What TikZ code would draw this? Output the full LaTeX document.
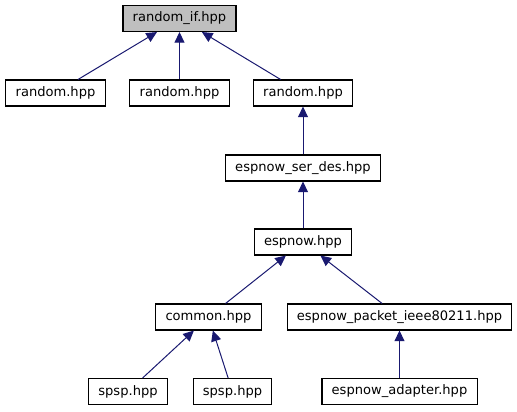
\documentclass[tikz,border=0pt]{standalone}
\usepackage{fontspec}
\setmainfont{DejaVu Sans}
\usepackage{tikz}
\usetikzlibrary{arrows.meta}
\definecolor{edgeblue}{HTML}{191970}
\definecolor{rootgray}{HTML}{BFBFBF}
\tikzset{
  file box/.style={
    draw=black,
    line width=0.8pt,
    fill=white,
    rectangle,
    inner xsep=7.3pt,
    inner ysep=0pt,
    minimum height=19.5pt,
    font=\fontsize{9.8}{11}\selectfont
  },
  root box/.style={
    file box,
    fill=rootgray
  },
  include edge/.style={
    -{Triangle[length=8pt, width=7.5pt]},
    line width=0.75pt,
    color=edgeblue
  }
}

\begin{document}
\begin{tikzpicture}[x=0.75pt, y=-0.75pt]

  \useasboundingbox (0,0) rectangle (517,411);

  %% ---- 根节点 ----
  \node[root box] (randomif) at (179.5, 18.5) {random\_if.hpp};

  %% ---- 第二层 ----
  \node[file box] (randomA) at (55.5, 93) {random.hpp};
  \node[file box] (randomB) at (179.5, 93) {random.hpp};
  \node[file box] (randomC) at (303, 93) {random.hpp};

  %% ---- 中间链 ----
  \node[file box] (serdes) at (303, 168) {espnow\_ser\_des.hpp};
  \node[file box] (espnow) at (303, 242) {espnow.hpp};

  %% ---- 下层 ----
  \node[file box] (common) at (208.5, 317) {common.hpp};
  \node[file box] (packet) at (399.5, 317) {espnow\_packet\_ieee80211.hpp};
  \node[file box] (spspA) at (128, 391.5) {spsp.hpp};
  \node[file box] (spspB) at (232.5, 391.5) {spsp.hpp};
  \node[file box] (adapter) at (399.5, 391.5) {espnow\_adapter.hpp};

  %% ---- 依赖箭头（指向被包含的文件）----
  \draw[include edge] (randomA) -- (randomif);
  \draw[include edge] (randomB) -- (randomif);
  \draw[include edge] (randomC) -- (randomif);
  \draw[include edge] (serdes) -- (randomC);
  \draw[include edge] (espnow) -- (serdes);
  \draw[include edge] (common) -- (espnow);
  \draw[include edge] (packet) -- (espnow);
  \draw[include edge] (spspA) -- (common);
  \draw[include edge] (spspB) -- (common);
  \draw[include edge] (adapter) -- (packet);

\end{tikzpicture}
\end{document}
